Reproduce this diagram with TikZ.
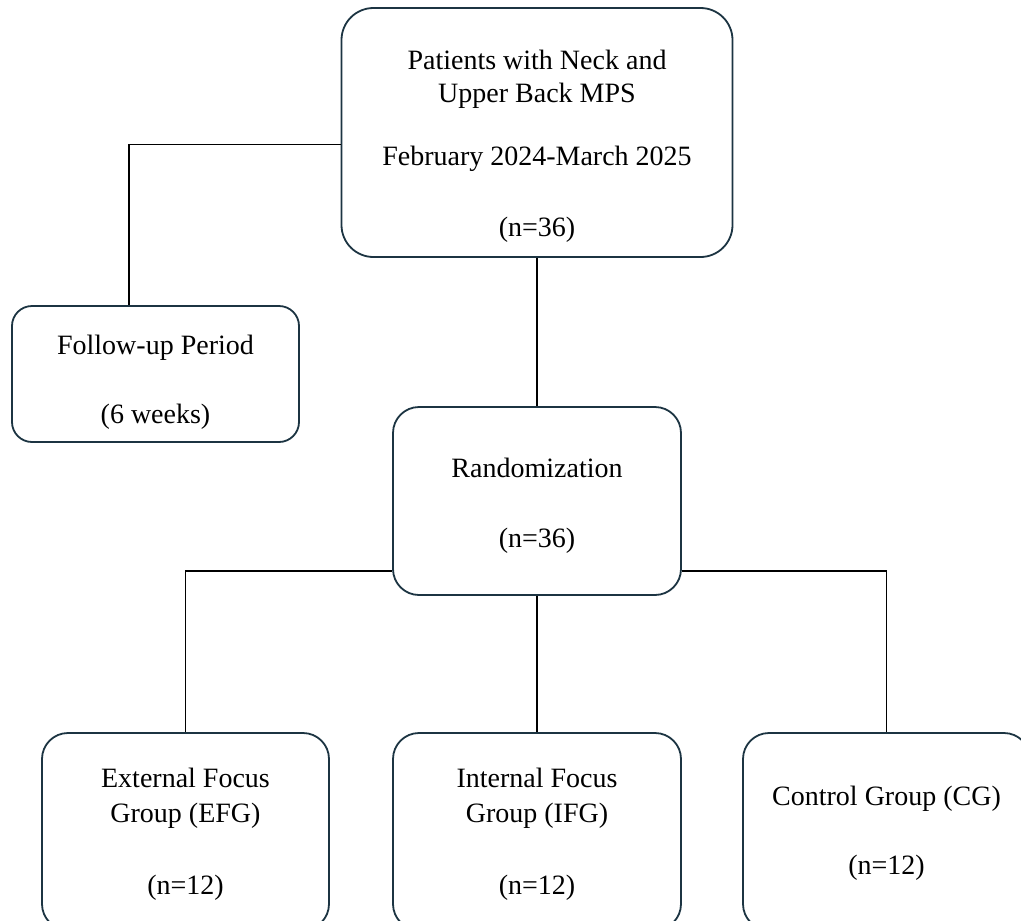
\documentclass[tikz,border=0pt]{standalone}
\usepackage{fontspec}
\setmainfont{Liberation Serif}
\usetikzlibrary{positioning}
\definecolor{boxline}{RGB}{28,52,66}

\begin{document}
\begin{tikzpicture}[x=1pt, y=-1pt, on grid, line width=1.2pt]
                \tikzset{flowbox/.style={draw=boxline, line width=1.8pt, rounded corners=26pt, align=center, inner sep=0pt, minimum width=288pt, font=\fontsize{28}{33}\selectfont}}

                \clip (0,0) rectangle (1021,921);

                % TOP BOX
                \node[flowbox, minimum width=391pt, minimum height=249pt, rounded corners=32pt] (pat) at (537,132.5)
                    {\rule{0pt}{47pt}Patients with Neck and\\Upper Back MPS\\[30pt]February 2024-March 2025\\[38pt](n=36)};

                % BOXES
                \node[flowbox, minimum width=287pt, minimum height=136pt, rounded corners=20pt] (fup) [below left=241.5pt and 381.5pt of pat]
                    {\rule{0pt}{35pt}Follow-up Period\\[36pt](6 weeks)};
                \node[flowbox, minimum height=188pt] (rand) [below=368.5pt of pat]
                    {\rule{0pt}{29pt}Randomization\\[37pt](n=36)};
                \node[flowbox, minimum height=197pt] (ifg) [below=330.5pt of rand]
                    {\rule{0pt}{24pt}Internal Focus\\[2pt]Group (IFG)\\[39pt](n=12)};
                \node[flowbox, minimum width=287pt, minimum height=197pt] (efg) [left=351.5pt of ifg]
                    {\rule{0pt}{24pt}External Focus\\[2pt]Group (EFG)\\[39pt](n=12)};
                \node[flowbox, minimum width=287pt, minimum height=197pt] (cg) [right=349.5pt of ifg]
                    {\rule{0pt}{22pt}Control Group (CG)\\[36pt](n=12)};

                % CONNECTORS
                \draw ([yshift=-12pt] pat.west) -| ([xshift=-26.5pt] fup.north);
                \draw (pat.south) -- (rand.north);
                \draw ([yshift=-70pt] rand.west) -| (efg.north);
                \draw (rand.south) -- (ifg.north);
                \draw ([yshift=-70pt] rand.east) -| (cg.north);

            \end{tikzpicture}
\end{document}
